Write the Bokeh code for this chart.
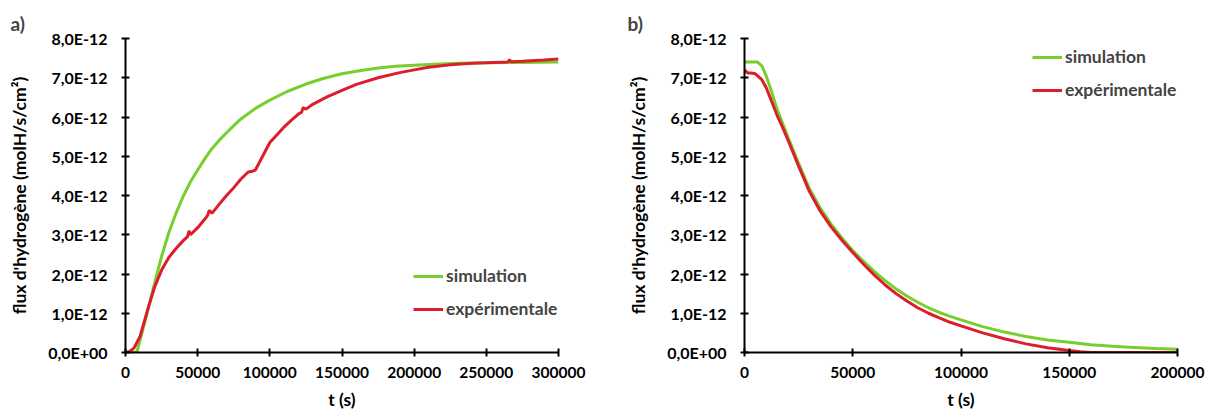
from bokeh.plotting import figure
from bokeh.layouts import row
from bokeh.models import (Range1d, FixedTicker, CustomJSTickFormatter, NumeralTickFormatter,
                          Legend, LegendItem)
from bokeh.embed import file_html
from bokeh.resources import INLINE

# ---------------- data (a) : charging ----------------
a_sim_t = [0, 5000, 8000, 10000, 12500, 15000, 17500, 20000, 25000, 30000, 35000, 40000, 45000,
           50000, 55000, 60000, 65000, 70000, 75000, 80000, 90000, 100000, 112000, 125000,
           137000, 150000, 162000, 175000, 187000, 200000, 225000, 250000, 275000, 300000]
a_sim_y = [0, 0, 0.02, 0.3, 0.65, 1.0, 1.38, 1.75, 2.45, 3.05, 3.55, 3.98, 4.35,
           4.65, 4.94, 5.2, 5.41, 5.6, 5.78, 5.95, 6.22, 6.43, 6.65, 6.84,
           6.98, 7.1, 7.18, 7.25, 7.29, 7.32, 7.36, 7.38, 7.39, 7.40]
a_exp_t = [0, 3000, 6000, 10000, 15000, 20000, 25000, 30000, 35000, 40000, 43000, 44000, 45000,
           50000, 55000, 57000, 58000, 60000, 65000, 70000, 75000, 80000, 85000, 88000, 90000,
           95000, 100000, 105000, 110000, 115000, 120000, 122000, 123000, 125000, 130000,
           140000, 150000, 160000, 175000, 190000, 200000, 210000, 225000, 240000, 250000,
           265000, 266000, 267000, 275000, 290000, 300000]
a_exp_y = [0, 0.03, 0.12, 0.4, 1.05, 1.65, 2.1, 2.42, 2.65, 2.85, 2.95, 3.1, 3.0,
           3.18, 3.4, 3.5, 3.62, 3.55, 3.78, 4.0, 4.2, 4.42, 4.6, 4.62, 4.65,
           5.0, 5.35, 5.55, 5.75, 5.92, 6.08, 6.12, 6.24, 6.2, 6.33,
           6.52, 6.68, 6.83, 7.0, 7.13, 7.2, 7.27, 7.33, 7.37, 7.38,
           7.4, 7.46, 7.41, 7.42, 7.45, 7.48]

# ---------------- data (b) : discharging ----------------
b_sim_t = [0, 3000, 6000, 8000, 10000, 12500, 15000, 17500, 20000, 25000, 30000, 35000, 40000,
           45000, 50000, 55000, 60000, 65000, 70000, 75000, 80000, 85000, 90000, 95000,
           100000, 110000, 120000, 130000, 140000, 150000, 160000, 170000, 180000, 190000, 200000]
b_sim_y = [7.4, 7.4, 7.4, 7.3, 7.05, 6.65, 6.2, 5.85, 5.5, 4.82, 4.17, 3.68, 3.27,
           2.92, 2.6, 2.32, 2.06, 1.83, 1.62, 1.44, 1.28, 1.14, 1.02, 0.92,
           0.83, 0.66, 0.52, 0.41, 0.32, 0.26, 0.2, 0.16, 0.13, 0.1, 0.08]
b_exp_t = [0, 1500, 3000, 5000, 8000, 10000, 12500, 15000, 17500, 20000, 25000, 30000, 35000,
           40000, 45000, 50000, 55000, 60000, 65000, 70000, 75000, 80000, 85000, 90000,
           95000, 100000, 110000, 120000, 130000, 140000, 150000, 155000, 160000, 170000,
           180000, 200000]
b_exp_y = [7.2, 7.12, 7.12, 7.1, 6.95, 6.75, 6.4, 6.05, 5.75, 5.42, 4.75, 4.1, 3.6,
           3.2, 2.86, 2.55, 2.25, 1.97, 1.72, 1.5, 1.31, 1.14, 1.0, 0.88,
           0.77, 0.68, 0.5, 0.35, 0.22, 0.12, 0.05, 0.02, 0.0, 0.0,
           0.0, 0.0]

y_ticks = [0, 1e-12, 2e-12, 3e-12, 4e-12, 5e-12, 6e-12, 7e-12, 8e-12]
a_x_ticks = [0, 50000, 100000, 150000, 200000, 250000, 300000]
b_x_ticks = [0, 50000, 100000, 150000, 200000]
series_names = ["simulation", "expérimentale"]
panel_titles = ["a)", "b)"]
y_label = "flux d'hydrogène (molH/s/cm²)"
x_label = "t (s)"

GREEN = "#76cf2c"
RED = "#dc1e2b"
FONT = "Lato"

def scale(v):
    return [x * 1e-12 for x in v]

yfmt = CustomJSTickFormatter(code="""
const s = Math.abs(tick) < 1e-20 ? (0).toExponential(1) : tick.toExponential(1);
const parts = s.split('e');
let sign = parts[1][0];
let d = parts[1].slice(1);
if (d.length < 2) d = '0' + d;
return parts[0].replace('.', ',') + 'E' + sign + d;
""")

def make(title, title_off, xmax, xticks, sim_t, sim_y, exp_t, exp_y, width, bl, br, legend_loc):
    p = figure(width=width, height=414, output_backend="svg", toolbar_location=None,
               x_range=Range1d(0, xmax), y_range=Range1d(0, 8e-12),
               min_border_left=bl, min_border_right=br, min_border_top=38,
               min_border_bottom=62, title=title)
    p.outline_line_color = None
    p.grid.visible = False
    p.background_fill_color = "white"
    p.border_fill_color = "white"

    p.title.text_font = FONT
    p.title.text_font_size = "19px"
    p.title.text_font_style = "bold"
    p.title.align = "left"
    p.title.offset = title_off
    p.title.standoff = 8

    for ax in (p.xaxis[0], p.yaxis[0]):
        ax.axis_line_width = 2
        ax.axis_line_color = "black"
        ax.major_tick_line_width = 2
        ax.major_tick_line_color = "black"
        ax.major_tick_in = 4
        ax.major_tick_out = 4
        ax.minor_tick_line_color = None
        ax.major_label_text_font = FONT
        ax.major_label_text_font_style = "bold"
        ax.major_label_text_color = "black"
        ax.axis_label_text_font = FONT
        ax.axis_label_text_font_size = "17.5px"
        ax.axis_label_text_font_style = "bold"
        ax.axis_label_text_color = "black"

    p.yaxis[0].ticker = FixedTicker(ticks=y_ticks)
    p.yaxis[0].formatter = yfmt
    p.yaxis[0].major_label_text_font_size = "16px"
    p.yaxis[0].major_label_standoff = 14
    p.yaxis[0].axis_label = y_label
    p.yaxis[0].axis_label_standoff = 15

    p.xaxis[0].ticker = FixedTicker(ticks=xticks)
    p.xaxis[0].formatter = NumeralTickFormatter(format="0")
    p.xaxis[0].major_label_text_font_size = "15.5px"
    p.xaxis[0].major_label_standoff = 10
    p.xaxis[0].axis_label = x_label
    p.xaxis[0].axis_label_standoff = 8

    r1 = p.line(sim_t, scale(sim_y), line_color=GREEN, line_width=3)
    r2 = p.line(exp_t, scale(exp_y), line_color=RED, line_width=3)

    leg = Legend(items=[LegendItem(label=series_names[0], renderers=[r1]),
                        LegendItem(label=series_names[1], renderers=[r2])],
                 location=legend_loc)
    leg.background_fill_alpha = 0
    leg.border_line_color = None
    leg.padding = 0
    leg.margin = 0
    leg.spacing = 12
    leg.glyph_width = 30
    leg.glyph_height = 20
    leg.label_height = 20
    leg.label_standoff = 3
    leg.label_text_font = FONT
    leg.label_text_font_size = "17.5px"
    leg.label_text_font_style = "bold"
    p.add_layout(leg)
    return p

pa = make(panel_titles[0], -115, 300000, a_x_ticks, a_sim_t, a_sim_y, a_exp_t, a_exp_y,
          608, 125, 50, (288, 33))
pb = make(panel_titles[1], -117, 200000, b_x_ticks, b_sim_t, b_sim_y, b_exp_t, b_exp_y,
          603, 136, 34, (288, 252))

layout = row(pa, pb)
open("out.html", "w").write(file_html(layout, INLINE))
